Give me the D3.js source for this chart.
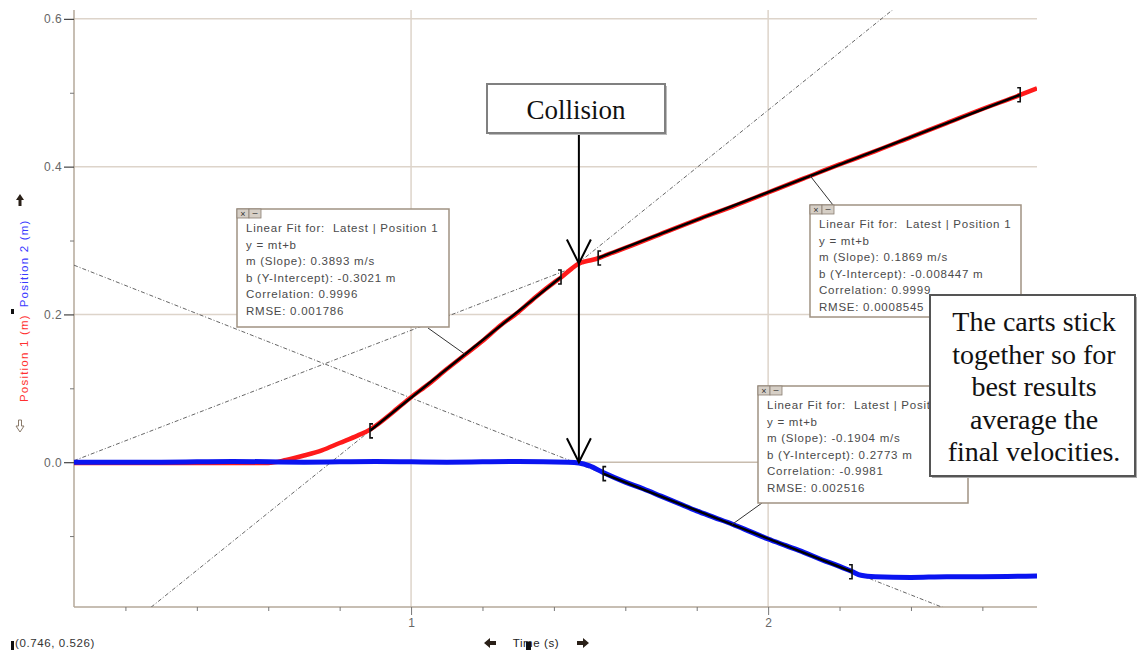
<!DOCTYPE html>
<html>
<head>
<meta charset="utf-8">
<script src="https://cdn.jsdelivr.net/npm/d3@7"></script>
<style>
  html, body { margin: 0; padding: 0; background: #fff; }
  svg { display: block; }
  text { white-space: pre; }
</style>
</head>
<body>
<div id="chart"></div>
<script>
// ---------------- DATA ----------------
const xTicksMajor = [1, 2];
const xTicksMinor = [0.2, 0.4, 0.6, 0.8, 1.2, 1.4, 1.6, 1.8, 2.2, 2.4, 2.6];
const yTicksMajor = [0.0, 0.2, 0.4, 0.6];
const yTicksMinor = [-0.1, 0.1, 0.3, 0.5];
const yTickLabels = ["0.0", "0.2", "0.4", "0.6"];

// Position 1 (red)
const time1 = [0.056, 0.2, 0.4, 0.6, 0.65, 0.7, 0.75, 0.8, 0.85, 0.885, 0.9, 0.95, 1.0, 1.05, 1.1, 1.15, 1.2, 1.25, 1.3, 1.35, 1.4, 1.42, 1.45, 1.47, 1.5, 1.524, 1.55, 1.6, 1.7, 1.8, 1.9, 2.0, 2.1, 2.2, 2.3, 2.4, 2.5, 2.6, 2.706, 2.753];
const position1 = [-0.001, -0.001, -0.001, -0.001, 0.003, 0.009, 0.016, 0.026, 0.036, 0.044, 0.049, 0.068, 0.088, 0.106, 0.126, 0.145, 0.164, 0.185, 0.203, 0.224, 0.243, 0.250, 0.262, 0.269, 0.273, 0.276, 0.281, 0.290, 0.309, 0.328, 0.346, 0.365, 0.384, 0.403, 0.421, 0.440, 0.459, 0.478, 0.497, 0.506];

// Position 2 (blue)
const time2 = [0.056, 0.3, 0.5, 0.7, 0.9, 1.1, 1.3, 1.44, 1.47, 1.5, 1.538, 1.6, 1.65, 1.7, 1.75, 1.8, 1.85, 1.9, 1.95, 2.0, 2.05, 2.1, 2.15, 2.2, 2.235, 2.26, 2.3, 2.4, 2.5, 2.6, 2.753];
const position2 = [0, 0, 0.001, 0, 0.001, 0, 0.001, 0, -0.001, -0.005, -0.014, -0.027, -0.036, -0.046, -0.056, -0.066, -0.075, -0.084, -0.094, -0.104, -0.113, -0.122, -0.132, -0.141, -0.148, -0.153, -0.155, -0.156, -0.155, -0.155, -0.154];

// Linear fits
const fitSeries = ["Position 1", "Position 1", "Position 2"];
const fitSlopes = [0.3893, 0.1869, -0.1904];
const fitIntercepts = [-0.3021, -0.008447, 0.2773];
const fitSlopeText = ["0.3893", "0.1869", "-0.1904"];
const fitInterceptText = ["-0.3021", "-0.008447", "0.2773"];
const fitCorrelation = ["0.9996", "0.9999", "-0.9981"];
const fitRMSE = ["0.001786", "0.0008545", "0.002516"];
const fitStart = [0.885, 1.524, 1.538];
const fitEnd = [1.42, 2.706, 2.235];
const fitAnchorT = [1.151, 2.118, 1.899];

const collisionTime = 1.47;
const noteLines = ["The carts stick", "together so for", "best results", "average the", "final velocities."];

// ---------------- LAYOUT ----------------
const W = 1138, H = 654;
const plot = { left: 74, right: 1037, top: 10, bottom: 607 };
const x = d3.scaleLinear().domain([0.056, 2.753]).range([plot.left, plot.right]);
const y = d3.scaleLinear().domain([-0.196, 0.612]).range([plot.bottom, plot.top]);

const svg = d3.select("#chart").append("svg").attr("width", W).attr("height", H)
  .style("font-family", "Arial, 'Liberation Sans', sans-serif");

svg.append("defs").append("clipPath").attr("id", "clip")
  .append("rect").attr("x", plot.left).attr("y", plot.top)
  .attr("width", plot.right - plot.left).attr("height", plot.bottom - plot.top);

const gridCol = "#ddd4ca", axisCol = "#b5a89a";

// gridlines
svg.append("g").selectAll("line.hg").data(yTicksMajor).join("line")
  .attr("x1", plot.left).attr("x2", plot.right)
  .attr("y1", d => y(d)).attr("y2", d => y(d))
  .attr("stroke", (d) => d === 0 ? "#c8bcae" : gridCol).attr("stroke-width", 1.5);
svg.append("g").selectAll("line.vg").data(xTicksMajor).join("line")
  .attr("x1", d => x(d)).attr("x2", d => x(d))
  .attr("y1", plot.top).attr("y2", plot.bottom)
  .attr("stroke", gridCol).attr("stroke-width", 1.5);

// Y axis
const yAxis = svg.append("g").attr("transform", `translate(${plot.left},0)`)
  .call(d3.axisLeft(y).tickValues(yTicksMajor).tickSize(10).tickPadding(2)
    .tickFormat((d, i) => yTickLabels[i]));
yAxis.select(".domain").attr("stroke", axisCol).attr("stroke-width", 1.5)
  .attr("d", `M0,${plot.top}V${plot.bottom}`);
yAxis.selectAll(".tick line").attr("stroke", "#444").attr("stroke-width", 1.2);
yAxis.selectAll(".tick text").attr("fill", "#666").style("font-size", "12px").style("letter-spacing", "0.4px");
svg.append("g").attr("transform", `translate(${plot.left},0)`)
  .call(d3.axisLeft(y).tickValues(yTicksMinor).tickSize(4).tickFormat(""))
  .call(g => g.select(".domain").remove())
  .call(g => g.selectAll(".tick line").attr("stroke", "#777"));

// X axis
const xAxis = svg.append("g").attr("transform", `translate(0,${plot.bottom})`)
  .call(d3.axisBottom(x).tickValues(xTicksMajor).tickSize(8).tickPadding(3).tickFormat(d3.format("d")));
xAxis.select(".domain").attr("stroke", axisCol).attr("stroke-width", 1.5)
  .attr("d", `M${plot.left},0H${plot.right}`);
xAxis.selectAll(".tick line").attr("stroke", "#777");
xAxis.selectAll(".tick text").attr("fill", "#666").style("font-size", "12px");
svg.append("g").attr("transform", `translate(0,${plot.bottom})`)
  .call(d3.axisBottom(x).tickValues(xTicksMinor).tickSize(4).tickFormat(""))
  .call(g => g.select(".domain").remove())
  .call(g => g.selectAll(".tick line").attr("stroke", "#777"));

// dashed fit extensions
const dataG = svg.append("g").attr("clip-path", "url(#clip)");
fitSlopes.forEach((m, i) => {
  const b = fitIntercepts[i];
  const t0 = x.domain()[0], t1 = x.domain()[1];
  dataG.append("line")
    .attr("x1", x(t0)).attr("y1", y(m * t0 + b))
    .attr("x2", x(t1)).attr("y2", y(m * t1 + b))
    .attr("stroke", "#666").attr("stroke-width", 1)
    .attr("stroke-dasharray", "4,2,1,2");
});

// data curves
const line = d3.line().x(d => x(d[0])).y(d => y(d[1])).curve(d3.curveMonotoneX);
dataG.append("path").datum(time1.map((t, i) => [t, position1[i]]))
  .attr("d", line).attr("fill", "none").attr("stroke", "#ff1a1a").attr("stroke-width", 4.5);
dataG.append("path").datum(time2.map((t, i) => [t, position2[i]]))
  .attr("d", line).attr("fill", "none").attr("stroke", "#0a14f0").attr("stroke-width", 5);

// solid fit segments + brackets
fitSlopes.forEach((m, i) => {
  const b = fitIntercepts[i];
  const a = fitStart[i], e = fitEnd[i];
  dataG.append("line")
    .attr("x1", x(a)).attr("y1", y(m * a + b))
    .attr("x2", x(e)).attr("y2", y(m * e + b))
    .attr("stroke", "#000").attr("stroke-width", 2.5);
  const bx = x(a), by = y(m * a + b);
  svg.append("path").attr("d", `M${bx + 3},${by - 7}H${bx}V${by + 7}H${bx + 3}`)
    .attr("fill", "none").attr("stroke", "#111").attr("stroke-width", 1.6);
  const ex = x(e), ey = y(m * e + b);
  svg.append("path").attr("d", `M${ex - 3},${ey - 7}H${ex}V${ey + 7}H${ex - 3}`)
    .attr("fill", "none").attr("stroke", "#111").attr("stroke-width", 1.6);
});

// fit info boxes
const boxes = [
  { x: 237, y: 209, w: 212, h: 118, cx: 428, cy: 328 },
  { x: 810, y: 205, w: 211, h: 112, cx: 833, cy: 205 },
  { x: 758, y: 386, w: 210, h: 117, cx: 762, cy: 503 }
];
boxes.forEach((bx, i) => {
  const m = fitSlopes[i], b = fitIntercepts[i], ta = fitAnchorT[i];
  svg.append("line").attr("x1", bx.cx).attr("y1", bx.cy)
    .attr("x2", x(ta)).attr("y2", y(m * ta + b))
    .attr("stroke", "#333").attr("stroke-width", 1);
  svg.append("rect").attr("x", bx.x).attr("y", bx.y).attr("width", bx.w).attr("height", bx.h)
    .attr("fill", "#fff").attr("stroke", "#a09282").attr("stroke-width", 1.5);
  // header icons
  svg.append("rect").attr("x", bx.x).attr("y", bx.y).attr("width", 12).attr("height", 9)
    .attr("fill", "#d6cfc6").attr("stroke", "#8a7e72").attr("stroke-width", 0.8);
  svg.append("rect").attr("x", bx.x + 12).attr("y", bx.y).attr("width", 12).attr("height", 9)
    .attr("fill", "#d6cfc6").attr("stroke", "#8a7e72").attr("stroke-width", 0.8);
  svg.append("text").attr("x", bx.x + 6).attr("y", bx.y + 8).attr("text-anchor", "middle")
    .style("font-size", "9px").attr("fill", "#333").text("×");
  svg.append("text").attr("x", bx.x + 18).attr("y", bx.y + 7).attr("text-anchor", "middle")
    .style("font-size", "9px").attr("fill", "#333").text("–");
  const lines = [
    `Linear Fit for:  Latest | ${fitSeries[i]}`,
    "y = mt+b",
    `m (Slope): ${fitSlopeText[i]} m/s`,
    `b (Y-Intercept): ${fitInterceptText[i]} m`,
    `Correlation: ${fitCorrelation[i]}`,
    `RMSE: ${fitRMSE[i]}`
  ];
  svg.append("g").selectAll("text").data(lines).join("text")
    .attr("x", bx.x + 9).attr("y", (d, k) => bx.y + 23 + k * 16.5)
    .style("font-size", "11.5px").style("letter-spacing", "0.75px")
    .attr("fill", "#4a4a4a").text(d => d);
});

// collision arrow
const cx = x(collisionTime);
svg.append("line").attr("x1", cx).attr("x2", cx).attr("y1", 134).attr("y2", y(0))
  .attr("stroke", "#000").attr("stroke-width", 2);
[y(0.269), y(0)].forEach(tipY => {
  svg.append("path").attr("d", `M${cx - 12},${tipY - 24}L${cx},${tipY}L${cx + 12},${tipY - 24}`)
    .attr("fill", "none").attr("stroke", "#000").attr("stroke-width", 2);
});

// collision label box
svg.append("rect").attr("x", 489).attr("y", 86).attr("width", 178).attr("height", 49).attr("fill", "#bbb");
svg.append("rect").attr("x", 487).attr("y", 84).attr("width", 178).attr("height", 49)
  .attr("fill", "#fff").attr("stroke", "#808080").attr("stroke-width", 2);
svg.append("text").attr("x", 576).attr("y", 119).attr("text-anchor", "middle")
  .style("font-family", "'Liberation Serif', 'Times New Roman', serif").style("font-size", "27px")
  .attr("fill", "#111").text("Collision");

// note box
svg.append("rect").attr("x", 932).attr("y", 297).attr("width", 205).attr("height", 181).attr("fill", "#aaa");
svg.append("rect").attr("x", 930).attr("y", 295).attr("width", 205).attr("height", 181)
  .attr("fill", "#fff").attr("stroke", "#555").attr("stroke-width", 2);
svg.append("g").selectAll("text").data(noteLines).join("text")
  .attr("x", 1034).attr("y", (d, i) => 331 + i * 32.5).attr("text-anchor", "middle")
  .style("font-family", "'Liberation Serif', 'Times New Roman', serif").style("font-size", "28px")
  .attr("fill", "#111").text(d => d);

// Y axis label
const yl = svg.append("text").attr("transform", "translate(28,402) rotate(-90)")
  .style("font-size", "11.5px").style("letter-spacing", "1.2px");
yl.append("tspan").attr("fill", "#ff3030").text("Position 1 (m)");
yl.append("tspan").attr("dx", 7).attr("fill", "#3a3aff").text("Position 2 (m)");
svg.append("rect").attr("x", 11).attr("y", 309).attr("width", 3).attr("height", 5).attr("fill", "#111");
// axis arrow icons
svg.append("path").attr("d", "M20,194L16,200H18.5V206H21.5V200H24Z").attr("fill", "#2a2018");
svg.append("path").attr("d", "M20,432L16,426H18.5V420H21.5V426H24Z").attr("fill", "none").attr("stroke", "#8a7a6a").attr("stroke-width", 1);

// X axis label
svg.append("text").attr("x", 536).attr("y", 647).attr("text-anchor", "middle")
  .style("font-size", "11.5px").style("letter-spacing", "0.6px").attr("fill", "#222").text("Time (s)");
svg.append("rect").attr("x", 526).attr("y", 642).attr("width", 5).attr("height", 8).attr("fill", "#111");
svg.append("path").attr("d", "M484,643L490,638V641H496V645H490V648Z").attr("fill", "#2a2018");
svg.append("path").attr("d", "M589,643L583,638V641H577V645H583V648Z").attr("fill", "#2a2018");

// cursor readout
svg.append("text").attr("x", 15).attr("y", 647).style("font-size", "11.5px").style("letter-spacing", "0.6px")
  .attr("fill", "#333").text("(0.746, 0.526)");
svg.append("rect").attr("x", 11).attr("y", 641).attr("width", 3).attr("height", 9).attr("fill", "#111");
</script>
</body>
</html>
